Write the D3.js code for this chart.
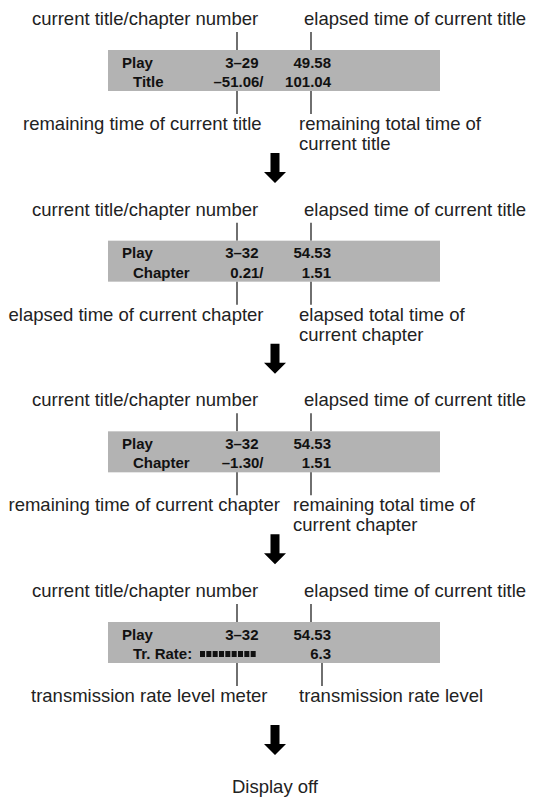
<!DOCTYPE html>
<html>
<head>
<meta charset="utf-8">
<script src="https://cdn.jsdelivr.net/npm/d3@7"></script>
<style>
  body { margin: 0; background: #fff; }
  text { font-family: "Liberation Sans", Arial, sans-serif; }
</style>
</head>
<body>
<div id="chart"></div>
<script>
// display states, one per panel
var modes = ["Title", "Chapter", "Chapter", "Tr. Rate:"];
var trackNumbers = ["3–29", "3–32", "3–32", "3–32"];
var elapsedTitle = ["49.58", "54.53", "54.53", "54.53"];
var row2Left = ["–51.06/", "0.21/", "–1.30/", ""];
var row2Right = ["101.04", "1.51", "1.51", "6.3"];
var meterBars = [0, 0, 0, 9];

var topLabels = ["current title/chapter number", "elapsed time of current title"];
var bottomLeft = [
  "remaining time of current title",
  "elapsed time of current chapter",
  "remaining time of current chapter",
  "transmission rate level meter"
];
var bottomRight = [
  ["remaining total time of", "current title"],
  ["elapsed total time of", "current chapter"],
  ["remaining total time of", "current chapter"],
  ["transmission rate level"]
];
var finalLabel = "Display off";

var width = 533, height = 800;

var svg = d3.select("#chart")
  .append("svg")
  .attr("width", width)
  .attr("height", height);

var y = d3.scaleLinear().domain([0, 3]).range([50, 622]);
var ink = "#222";

var panels = svg.selectAll(".panel")
  .data(d3.range(modes.length))
  .enter()
  .append("g")
  .attr("class", "panel")
  .attr("transform", function (i) { return "translate(0," + y(i) + ")"; });

// top labels + leader lines
panels.append("text")
  .attr("x", 32).attr("y", -25)
  .attr("font-size", 18.5).attr("fill", ink)
  .text(topLabels[0]);
panels.append("text")
  .attr("x", 304).attr("y", -25)
  .attr("font-size", 18.5).attr("fill", ink)
  .text(topLabels[1]);

[237, 311].forEach(function (lx) {
  panels.append("line")
    .attr("x1", lx).attr("x2", lx)
    .attr("y1", -18).attr("y2", 0)
    .attr("stroke", ink).attr("stroke-width", 1.3);
});

// display box
panels.append("rect")
  .attr("x", 108).attr("y", 0)
  .attr("width", 332).attr("height", 41)
  .attr("fill", "#b3b3b3");

function boxText(x, yy, anchor, fn) {
  panels.append("text")
    .attr("x", x).attr("y", yy)
    .attr("text-anchor", anchor)
    .attr("font-size", 15).attr("font-weight", "bold")
    .attr("fill", "#111")
    .text(fn);
}
boxText(122, 17.5, "start", function () { return "Play"; });
boxText(258.5, 17.5, "end", function (i) { return trackNumbers[i]; });
boxText(331, 17.5, "end", function (i) { return elapsedTitle[i]; });
boxText(133, 37, "start", function (i) { return modes[i]; });
boxText(263.5, 37, "end", function (i) { return row2Left[i]; });
boxText(331, 37, "end", function (i) { return row2Right[i]; });

// level meter
var meterX = d3.scaleLinear().domain([0, 9]).range([200, 257]);
panels.each(function (i) {
  d3.select(this).selectAll(".bar")
    .data(d3.range(meterBars[i]))
    .enter()
    .append("rect")
    .attr("class", "bar")
    .attr("x", function (k) { return meterX(k); })
    .attr("y", 29)
    .attr("width", 5)
    .attr("height", 6)
    .attr("fill", "#111");
});

// bottom leader lines + labels
panels.append("line")
  .attr("x1", 237).attr("x2", 237)
  .attr("y1", 41).attr("y2", 64)
  .attr("stroke", ink).attr("stroke-width", 1.3);
panels.append("line")
  .attr("x1", function (i) { return i === 3 ? 322 : 311; })
  .attr("x2", function (i) { return i === 3 ? 322 : 311; })
  .attr("y1", 41).attr("y2", 64)
  .attr("stroke", ink).attr("stroke-width", 1.3);

var leftX = [23, 8.5, 8.5, 31];
var rightX = [299, 299, 293, 299];
panels.append("text")
  .attr("x", function (i) { return leftX[i]; })
  .attr("y", 80)
  .attr("font-size", 18.5).attr("fill", ink)
  .text(function (i) { return bottomLeft[i]; });

panels.each(function (i) {
  d3.select(this).selectAll(".rl")
    .data(bottomRight[i])
    .enter()
    .append("text")
    .attr("class", "rl")
    .attr("x", rightX[i])
    .attr("y", function (d, k) { return 80 + k * 20; })
    .attr("font-size", 18.5).attr("fill", ink)
    .text(function (d) { return d; });
});

// down arrows
var arrow = "M270.5,103 L279.5,103 L279.5,122 L286,122 L275,133 L264,122 L270.5,122 Z";
panels.append("path")
  .attr("d", arrow)
  .attr("fill", "#000");

svg.append("text")
  .attr("x", 275).attr("y", 793)
  .attr("text-anchor", "middle")
  .attr("font-size", 18.5).attr("fill", ink)
  .text(finalLabel);
</script>
</body>
</html>
